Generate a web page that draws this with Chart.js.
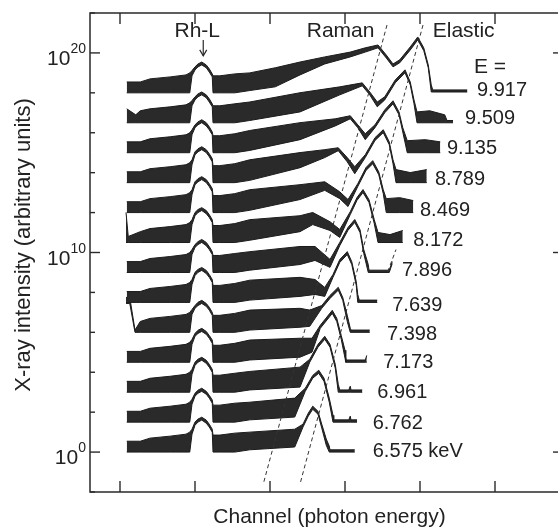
<!DOCTYPE html>
<html>
<head>
<meta charset="utf-8">
<script src="https://cdn.jsdelivr.net/npm/chart.js"></script>
<style>
  html, body { margin: 0; padding: 0; background: #fff; }
  #c { display: block; }
</style>
</head>
<body>
<canvas id="c" width="558" height="528"></canvas>
<script>
// incident energies (keV), top spectrum first
const energies = ['9.917', '9.509', '9.135', '8.789', '8.469', '8.172', '7.896',
                  '7.639', '7.398', '7.173', '6.961', '6.762', '6.575 keV'];
// vertical offset of each spectrum (decades)
const offsetDecades = [18, 16.5, 15, 13.5, 12, 10.5, 9, 7.5, 6, 4.5, 3, 1.5, 0];

// each spectrum: [channel, upper edge of noise band, lower edge] (counts, before offset)
const spectra = [
  // 9.917
  [[9,3.5,1],[27,3.5,1],[40,5,1],[67,6.3,1],[88,7.9,1],[93,10,1],[96,13,7.1],
   [100,20,14],[104,28,20],[109,35,25],[115,25,18],[119,16,11],[123,8.9,6.3],
   [124,7.1,1],[133,7.1,1],[153,8.9,1],
   [173,10,1.3],[207,18,2],[240,35,7.9],[273,63,28],[307,110,63],[327,180,110],[344,250,180],
   [355,79,56],[364,28,20],[373,45,32],[387,200,140],[397,630,450],[405,180,130],[411,25,18],
   [415,2.5,1.1],[417,1.4,1.1],[463,1.4,1.1]],
  // 9.509
  [[9,5,1],[21,2.5,1],[27,4,1],[40,5,1],[67,6.3,1],[88,7.9,1],[93,10,1],[96,13,7.1],
   [100,20,14],[104,28,20],[109,35,25],[115,25,18],[119,16,11],[123,8.9,6.3],
   [124,7.1,1],[133,7.1,1],[153,8.9,1],
   [173,11,1.3],[240,32,3.5],[293,63,25],[323,100,71],[333,35,25],[343,11,6.3],[353,20,14],
   [367,140,100],[380,450,320],[387,110,79],[392,14,8.9],[396,3.5,1],[413,4,1],[433,2.5,1],
   [436,1.3,1],[444,1.3,1]],
  // 9.135
  [[9,3.5,1],[27,3.5,1],[40,5,1],[67,6.3,1],[88,7.9,1],[93,10,1],[96,14,7.9],
   [100,25,18],[104,35,25],[109,45,32],[115,32,22],[119,20,14],[123,11,7.9],
   [124,7.1,1],[133,7.1,1],[153,8.9,1],
   [173,13,1.3],[240,32,4.5],[287,50,22],[307,71,50],[317,25,18],[327,8.9,4.5],[340,25,18],
   [353,140,100],[364,400,280],[372,110,79],[377,18,11],[383,4,1],[407,4.5,1],[427,3.5,1]],
  // 8.789
  [[9,3.5,1],[27,3.5,1],[40,5,1],[67,6.3,1],[88,7.9,1],[93,10,1],[96,14,7.9],
   [100,35,25],[104,50,35],[109,63,45],[115,45,32],[119,28,20],[123,16,11],
   [124,7.1,1],[133,7.1,1],[153,8.9,1],
   [173,14,1.3],[240,32,5.6],[273,45,18],[291,56,40],[303,18,11],[313,6.3,2.8],[327,25,18],
   [340,180,130],[351,450,320],[359,110,79],[364,14,8.9],[368,4.5,1],[387,3.2,1],[409,4.5,1]],
  // 8.469
  [[9,3.5,1],[27,3.5,1],[40,5,1],[67,6.3,1],[88,7.9,1],[93,10,1],[96,14,7.9],
   [100,35,25],[104,50,35],[109,63,45],[115,45,32],[119,28,20],[123,16,11],
   [124,7.1,1],[133,7.1,1],[153,8.9,1],
   [173,14,1.3],[240,25,4.5],[273,35,13],[293,11,5],[304,4.5,2],[317,28,20],[328,180,130],
   [337,400,280],[345,110,79],[351,14,8.9],[355,5,1],[373,5.6,1],[391,4,1]],
  // 8.172
  [[8,32,1],[11,2,1],[27,3.5,1],[40,5,1],[67,6.3,1],[88,7.9,1],[93,10,1],[96,14,7.9],
   [100,32,22],[104,45,32],[109,56,40],[115,40,28],[119,25,18],[123,14,10],
   [124,7.1,1],[133,7.1,1],[153,8.9,1],
   [173,14,1.3],[240,22,3.5],[257,32,7.9],[280,11,4],[293,4.5,1.8],[307,35,25],[316,180,130],
   [324,450,320],[332,140,100],[339,14,8.9],[344,3.2,1],[360,2.5,1],[377,4,1]],
  // 7.896
  [[9,3.5,1],[27,3.5,1],[40,5,1],[67,6.3,1],[88,7.9,1],[93,10,1],[96,14,7.9],
   [100,25,18],[104,35,25],[109,45,32],[115,32,22],[119,20,14],[123,11,7.9],
   [124,7.1,1],[133,7.1,1],[153,8.9,1],
   [173,11,1.3],[240,20,2.5],[260,20,4],[280,4.5,1.8],[293,32,22],[304,180,130],[313,450,320],
   [320,140,100],[325,14,8.9],[331,2.5,1],[332,1.3,1],[359,1.3,1],[363,3.5,2.8]],
  // 7.639
  [[9,3.5,1],[27,3.5,1],[40,5,1],[67,6.3,1],[88,7.9,1],[93,10,1],[96,14,7.9],
   [100,32,22],[104,45,32],[109,56,40],[115,40,28],[119,25,18],[123,14,10],
   [124,7.1,1],[133,7.1,1],[153,8.9,1],
   [173,13,1.3],[240,18,2],[260,14,2.5],[273,5.6,2],[284,25,18],[293,140,100],[303,350,250],
   [309,110,79],[315,11,7.1],[317,2.5,1],[319,1.3,1],[343,1.3,1]],
  // 7.398
  [[8,56,28],[13,56,28],[20,1.3,1],[27,3.5,1],[40,5,1],[67,6.3,1],[88,7.9,1],[93,10,1],[96,14,7.9],
   [100,22,16],[104,32,22],[109,40,28],[115,28,20],[119,18,13],[123,10,7.1],
   [124,7.1,1],[133,7.1,1],[153,8.9,1],
   [173,13,1.3],[240,16,1.8],[253,13,2],[269,22,16],[280,71,50],[291,180,130],[297,56,40],
   [303,7.1,3.5],[307,1.6,1],[308,1.3,1],[333,1.3,1]],
  // 7.173
  [[9,3.5,1],[27,3.5,1],[40,5,1],[67,6.3,1],[88,7.9,1],[93,10,1],[96,14,7.9],
   [100,28,20],[104,40,28],[109,50,35],[115,35,25],[119,22,16],[123,13,8.9],
   [124,7.1,1],[133,7.1,1],[153,8.9,1],
   [173,13,1.3],[240,16,1.8],[256,16,3.2],[267,71,50],[283,400,280],[289,160,110],[295,22,14],
   [300,4,1.6],[301,1.3,1],[327,1.3,1],[329,2.2,1]],
  // 6.961
  [[9,3.5,1],[27,3.5,1],[40,5,1],[67,6.3,1],[88,7.9,1],[93,10,1],[96,14,7.9],
   [100,32,22],[104,45,32],[109,56,40],[115,40,28],[119,25,18],[123,14,10],
   [124,7.1,1],[133,7.1,1],[153,8.9,1],
   [173,11,1.3],[240,18,1.8],[253,45,32],[264,250,180],[273,630,450],[280,250,180],[287,25,16],
   [291,2.5,1],[293,1.3,1],[305,1.3,1],[307,2,1],[308,1.3,1],[323,1.3,1]],
  // 6.762
  [[9,3.5,1],[27,3.5,1],[40,5,1],[67,6.3,1],[88,7.9,1],[93,10,1],[96,14,7.9],
   [100,28,20],[104,40,28],[109,50,35],[115,35,25],[119,22,16],[123,13,8.9],
   [124,7.1,1],[133,7.1,1],[153,8.9,1],
   [173,10,1.3],[233,16,1.8],[247,50,35],[257,220,160],[265,400,280],[272,160,110],[279,16,10],
   [284,2.2,1],[285,1.3,1],[305,1.3,1],[307,2,1],[308,1.3,1],[316,1.3,1]],
  // 6.575
  [[9,3.5,1],[27,3.5,1],[40,5,1],[67,6.3,1],[88,7.9,1],[93,10,1],[96,14,7.9],
   [100,32,22],[104,45,32],[109,56,40],[115,40,28],[119,25,18],[123,14,10],
   [124,7.1,1],[133,7.1,1],[153,8.9,1],
   [173,10,1.3],[233,14,1.8],[244,25,18],[251,89,63],[257,200,140],[264,110,79],[269,25,16],
   [275,4.5,2.2],[279,2,1],[280,1.3,1],[313,1.3,1]]
];

// guide lines through the Raman and elastic peaks
const ramanLine = [[356, 2.5e21], [191, 0.025]];
const elasticLine = [[404, 2.5e21], [240, 0.025]];
const edgeLine = [[357, 1.1e9], [368, 1.4e10]];

const xTicks = [0, 100, 200, 300, 400, 500];
const yLabelDecades = [0, 10, 20];

// label placement (channel of left edge, px shift from baseline)
const labelCh = [476, 460, 436, 420, 400, 391, 376, 363, 356, 351, 343, 337, 337];
const labelDy = [-4, -5.5, -5.5, -5, -3.5, -3.5, -3, 1.5, 1, -1.5, -1, 0, -2.5];

const ink = '#1c1c1c';
const font = 'Liberation Sans, Arial, sans-serif';

const datasets = [];
[ramanLine, elasticLine, edgeLine].forEach(l => {
  datasets.push({
    data: l.map(p => ({ x: p[0], y: p[1] })),
    borderColor: '#333', borderWidth: 1, borderDash: [4, 3], fill: false
  });
});
spectra.forEach((s, i) => {
  const f = Math.pow(10, offsetDecades[i]);
  datasets.push({
    data: s.map(p => ({ x: p[0], y: p[1] * f })),
    borderColor: ink, borderWidth: 1, fill: false
  });
  datasets.push({
    data: s.map(p => ({ x: p[0], y: p[2] * f })),
    borderColor: ink, borderWidth: 1, fill: '-1', backgroundColor: '#2a2a2a'
  });
});

function seg(ctx, x1, y1, x2, y2) {
  ctx.beginPath(); ctx.moveTo(x1, y1); ctx.lineTo(x2, y2); ctx.stroke();
}

const decor = {
  id: 'decor',
  afterDraw(chart) {
    const { ctx, chartArea: a, scales: { x, y } } = chart;
    ctx.save();
    ctx.strokeStyle = '#2a2a2a';
    ctx.lineWidth = 1.5;
    ctx.beginPath();
    ctx.moveTo(a.right + 5, a.top); ctx.lineTo(a.left, a.top);
    ctx.lineTo(a.left, a.bottom); ctx.lineTo(a.right + 5, a.bottom);
    ctx.stroke();

    ctx.lineWidth = 1.4;
    xTicks.forEach(v => {
      const px = x.getPixelForValue(v);
      seg(ctx, px, a.bottom, px, a.bottom - 11);
      seg(ctx, px, a.top, px, a.top + 11);
    });
    for (let d = -2; d <= 22; d += 2) {
      const py = y.getPixelForValue(Math.pow(10, d));
      const major = yLabelDecades.includes(d);
      seg(ctx, a.left, py, a.left + (major ? 10 : 5), py);
      if (major) seg(ctx, a.right - 5, py, a.right, py);
    }

    ctx.fillStyle = '#222';
    // y tick labels 10^n
    yLabelDecades.forEach(d => {
      const py = y.getPixelForValue(Math.pow(10, d));
      ctx.font = '14px ' + font;
      const sup = String(d);
      const ws = ctx.measureText(sup).width;
      ctx.textAlign = 'left';
      ctx.textBaseline = 'alphabetic';
      ctx.fillText(sup, a.left - 4 - ws, py);
      ctx.font = '21px ' + font;
      ctx.textAlign = 'right';
      ctx.fillText('10', a.left - 4 - ws, py + 12);
    });

    // axis titles
    ctx.font = '21px ' + font;
    ctx.textAlign = 'center';
    ctx.fillText('Channel (photon energy)', (a.left + a.right + 5) / 2 + 3, 523);
    ctx.save();
    ctx.translate(30, 245);
    ctx.rotate(-Math.PI / 2);
    ctx.font = '22px ' + font;
    ctx.fillText('X-ray intensity (arbitrary units)', 0, 0);
    ctx.restore();

    // peak annotations
    ctx.font = '21px ' + font;
    ctx.textAlign = 'center';
    ctx.fillText('Rh-L', x.getPixelForValue(103), y.getPixelForValue(Math.pow(10, 20.8)));
    ctx.textAlign = 'left';
    ctx.fillText('Raman', x.getPixelForValue(249), y.getPixelForValue(Math.pow(10, 20.8)));
    ctx.fillText('Elastic', x.getPixelForValue(417), y.getPixelForValue(Math.pow(10, 20.8)));
    ctx.fillText('E =', x.getPixelForValue(472), y.getPixelForValue(Math.pow(10, 19)));

    const ax = x.getPixelForValue(111);
    const ay1 = y.getPixelForValue(Math.pow(10, 20.65));
    const ay2 = y.getPixelForValue(Math.pow(10, 19.85));
    ctx.lineWidth = 1.2;
    seg(ctx, ax, ay1, ax, ay2);
    ctx.beginPath();
    ctx.moveTo(ax - 3.5, ay2 - 6); ctx.lineTo(ax, ay2); ctx.lineTo(ax + 3.5, ay2 - 6);
    ctx.stroke();

    // energy labels
    ctx.font = '20px ' + font;
    energies.forEach((e, i) => {
      const py = y.getPixelForValue(Math.pow(10, offsetDecades[i])) + labelDy[i] + 7;
      ctx.fillText(e, x.getPixelForValue(labelCh[i]), py);
    });
    ctx.restore();
  }
};

new Chart(document.getElementById('c'), {
  type: 'line',
  data: { datasets },
  options: {
    responsive: false,
    animation: false,
    devicePixelRatio: 1,
    layout: { padding: { top: 13, right: 0, left: 0, bottom: 0 } },
    plugins: { legend: { display: false }, tooltip: { enabled: false } },
    elements: { point: { radius: 0 }, line: { tension: 0 } },
    scales: {
      x: {
        type: 'linear', min: -40, max: 584,
        grid: { display: false }, border: { display: false }, ticks: { display: false },
        afterFit: s => { s.height = 36; }
      },
      y: {
        type: 'logarithmic', min: 1e-2, max: 1e22,
        grid: { display: false }, border: { display: false }, ticks: { display: false },
        afterFit: s => { s.width = 90; }
      }
    }
  },
  plugins: [decor]
});
</script>
</body>
</html>
